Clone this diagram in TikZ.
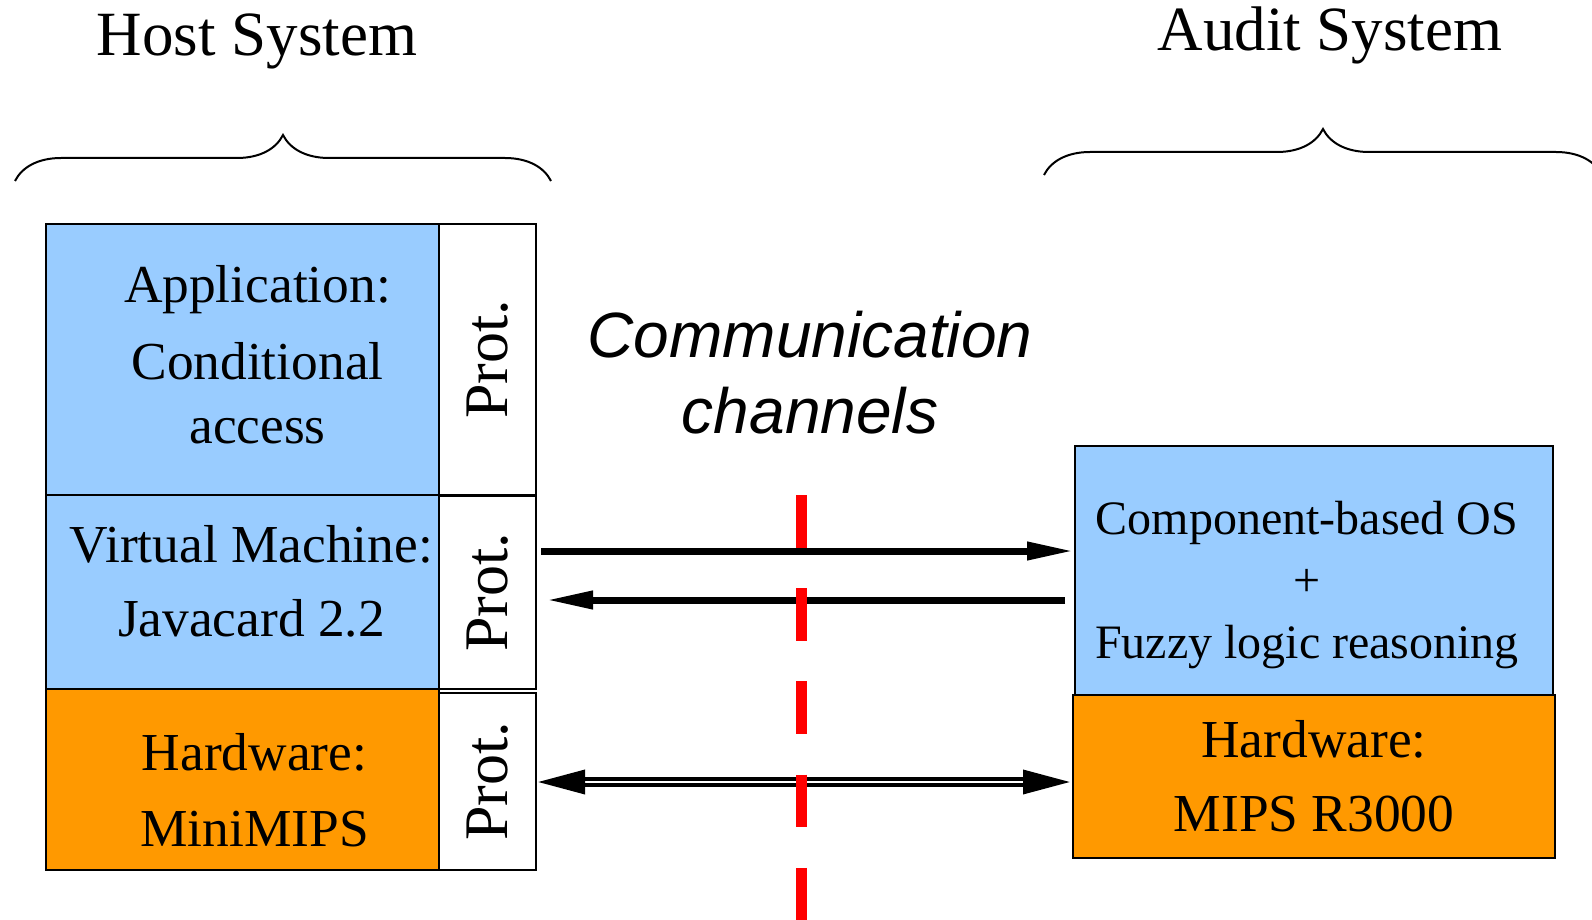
\documentclass[tikz,border=0pt]{standalone}
\usepackage{fontspec}
\setmainfont{Liberation Serif}
\setsansfont{Liberation Sans}
\usepackage{tikz}
\usetikzlibrary{arrows.meta,calc,positioning}
\usetikzlibrary{decorations.pathreplacing}
\definecolor{layerblue}{RGB}{153,204,255}
\definecolor{layerorange}{RGB}{255,153,0}
\definecolor{chanred}{RGB}{255,0,0}
\tikzset{
  layer/.style={draw=black, line width=1pt, inner sep=0pt},
  layertext/.style={inner sep=0pt, align=center, font=\fontsize{26.7}{32}\selectfont},
  protbox/.style={draw=black, fill=white, line width=1pt, inner sep=0pt,
    minimum width=48.5pt, font=\fontsize{31}{31}\selectfont},
  sysname/.style={anchor=base, font=\fontsize{31.5}{31.5}\selectfont},
  chan/.style={line width=3.5pt, -{Triangle[length=23.5pt,width=8.5pt]}},
  curly/.style={decorate, decoration={brace, amplitude=23pt}, line width=1pt}
}

\begin{document}
\begin{tikzpicture}[x=0.5pt,y=-0.5pt]
  \useasboundingbox (0,0) rectangle (1592,920);
  % Host system stack
  \node[layer, fill=layerblue, minimum width=196.5pt, minimum height=135.5pt] (app) at (242.5,359.5) {};
  \node[layer, fill=layerblue, minimum width=196.5pt, minimum height=97pt] (vm) at (242.5,592) {};
  \node[layer, fill=layerorange, minimum width=196.5pt, minimum height=90.5pt] (hw) at (242.5,779.5) {};
  \node[layertext] (appText) at ($(app)+(15,-4.5)$) {Application:\\[6.5pt]Conditional\\access};
  \node[layertext] (vmText) at ($(vm)+(9,-11)$) {Virtual Machine:\\[5pt]Javacard 2.2};
  \node[layertext] (hwText) at ($(hw)+(12,11)$) {Hardware:\\[6pt]MiniMIPS};
  % Protection columns
  \node[protbox, minimum height=135.5pt] (prot1) at (487.5,359.5) {\rotatebox{90}{Prot.}};
  \node[protbox, minimum height=96.5pt] (prot2) at (487.5,592.5) {\rotatebox{90}{Prot.}};
  \node[protbox, minimum height=88.5pt] (prot3) at (487.5,781.5) {\rotatebox{90}{Prot.}};
  % Audit system stack
  \node[layer, fill=layerblue, minimum width=239pt, minimum height=124.5pt] (os) at (1314,570.5) {};
  \node[layer, fill=layerorange, minimum width=241pt, minimum height=81.5pt] (hwr) at (1314,776.5) {};
  \node[layertext, font=\fontsize{24}{31}\selectfont] (osText) at ($(os)+(-7,15)$)
    {Component-based OS\\+\\Fuzzy logic reasoning};
  \node[layertext] (hwrText) at (hwr) {Hardware:\\[5pt]MIPS R3000};
  % Titles and braces
  \node[sysname] (host) at (257,56) {Host System};
  \node[sysname] (audit) at (1330,51) {Audit System};
  \draw[curly] (15,181) -- (551,181);
  \draw[curly] (1044,175) -- (1602,175);
  \node[align=center, font=\sffamily\itshape\fontsize{32}{38}\selectfont] (comm) at (810,373)
    {Communication\\channels};
  % Channels
  \draw[chan] ($(prot2.east |- 0,551)+(4,0)$) -- (os.west |- 0,551);
  \draw[chan] ($(os.west |- 0,600)+(-9,0)$) -- ($(prot2.east |- 0,600)+(9,0)$);
  \draw[line width=1.8pt, double distance=1.2pt,
    {Triangle[length=23.5pt,width=12pt]}-{Triangle[length=23.5pt,width=12pt]}]
    ($(prot3.east |- 0,782)+(1,0)$) -- ($(hwr.west |- 0,782)+(-2,0)$);
  % Boundary
  \draw[chanred, line width=5.5pt, dash pattern=on 26.4pt off 20.2pt] (801,495) -- (801,920);
\end{tikzpicture}
\end{document}
